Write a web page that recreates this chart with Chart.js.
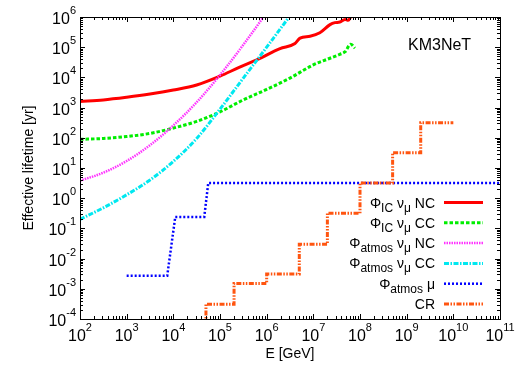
<!DOCTYPE html>
<html><head><meta charset="utf-8">
<script src="https://cdn.jsdelivr.net/npm/chart.js@4.4.1/dist/chart.umd.min.js"></script>
<style>html,body{margin:0;padding:0;background:#fff;}canvas{display:block;}</style>
</head><body>
<canvas id="c" width="523" height="366"></canvas>
<script>
// ---- data ----
const icNcE = [1e2, 3.16e2, 1e3, 3.16e3, 1e4, 3.16e4, 1e5, 2.5e5, 6.6e5, 1.93e6, 4.05e6, 5.2e6, 8.5e6, 1.38e7, 2.28e7, 2.9e7, 3.7e7, 4.8e7, 5.6e7, 6.3e7, 7.5e7];
const icNcY = [1.6e3, 1.8e3, 2.2e3, 2.8e3, 3.8e3, 5.6e3, 1.1e4, 2.1e4, 4.0e4, 8.9e4, 1.32e5, 2.0e5, 2.3e5, 3.0e5, 5.6e5, 6.5e5, 6.8e5, 8.3e5, 7.8e5, 1.0e6, 1.3e6];
const icCcE = [1e2, 3.16e2, 1e3, 3.16e3, 1e4, 3.16e4, 1e5, 3.16e5, 1e6, 3.16e6, 1e7, 2e7, 3.7e7, 4.8e7, 6.3e7, 7.8e7];
const icCcY = [89, 95, 110, 140, 210, 350, 720, 1.8e3, 4.0e3, 9.5e3, 2.6e4, 4.0e4, 5.8e4, 7.1e4, 1.26e5, 9.3e4];
const atmNcE = [1e2, 3.16e2, 1e3, 3.16e3, 1e4, 3.16e4, 1e5, 3.16e5, 1e6];
const atmNcY = [3.8, 7, 17, 57, 257, 1.5e3, 1.2e4, 1.2e5, 1.4e6];
const atmCcE = [1e2, 3.16e2, 1e3, 3.16e3, 1e4, 3.16e4, 1e5, 3.16e5, 1e6, 3.16e6];
const atmCcY = [0.2, 0.48, 1.3, 4, 16.5, 95, 890, 9.5e3, 1e5, 1.1e6];
const atmMuE = [1e3, 7.4e3, 1.1e4, 4.6e4, 5.6e4, 1e11];
const atmMuY = [2.7e-3, 2.7e-3, 0.24, 0.24, 3.2, 3.2];
const crE = [5e4, 5e4, 2e5, 2e5, 1e6, 1e6, 5e6, 5e6, 2e7, 2e7, 1e8, 1e8, 5e8, 5e8, 2e9, 2e9, 1e10];
const crY = [5e-5, 3.1e-4, 3.1e-4, 1.5e-3, 1.5e-3, 3.1e-3, 3.1e-3, 3e-2, 3e-2, 0.32, 0.32, 3.2, 3.2, 32, 32, 316, 316];

const xTickExps = [2, 3, 4, 5, 6, 7, 8, 9, 10, 11];
const yTickExps = [-4, -3, -2, -1, 0, 1, 2, 3, 4, 5, 6];
const titleText = 'KM3NeT';
const xAxisTitle = 'E [GeV]';
const yAxisTitle = 'Effective lifetime [yr]';
// legend labels as [text, 'n' normal | 's' subscript] segments
const legendLabels = [
  [['\u03A6','n'],['IC','s'],[' \u03BD','n'],['\u03BC','s'],[' NC','n']],
  [['\u03A6','n'],['IC','s'],[' \u03BD','n'],['\u03BC','s'],[' CC','n']],
  [['\u03A6','n'],['atmos','s'],[' \u03BD','n'],['\u03BC','s'],[' NC','n']],
  [['\u03A6','n'],['atmos','s'],[' \u03BD','n'],['\u03BC','s'],[' CC','n']],
  [['\u03A6','n'],['atmos','s'],[' \u03BC','n']],
  [['CR','n']]
];

const FONT = '"Liberation Sans", Arial, Helvetica, sans-serif';
const pts = (E, Y) => E.map((e, i) => ({x: e, y: Y[i]}));

const styles = [
  {c: '#ff0000', w: 3, d: [], smooth: true},
  {c: '#00ee00', w: 3, d: [3.5, 2], smooth: true},
  {c: '#ff33ff', w: 2.5, d: [1.5, 1], smooth: true},
  {c: '#00e8f0', w: 3, d: [5, 1.5, 1.5, 1.5], smooth: true},
  {c: '#0000ff', w: 2.5, d: [2, 2], smooth: false},
  {c: '#ff5510', w: 3, d: [5, 1.5, 1.5, 1.5, 1.5, 1.5], smooth: false}
];
const series = [pts(icNcE, icNcY), pts(icCcE, icCcY), pts(atmNcE, atmNcY), pts(atmCcE, atmCcY), pts(atmMuE, atmMuY), pts(crE, crY)];

const datasets = series.map((s, i) => ({
  data: s, showLine: true, pointRadius: 0, borderColor: styles[i].c, borderWidth: styles[i].w,
  borderDash: styles[i].d, fill: false, clip: 0, order: 10 - i,
  tension: styles[i].smooth ? 0.4 : 0,
  cubicInterpolationMode: styles[i].smooth ? 'monotone' : 'default'
}));

function drawRich(ctx, segs, rightX, baseY) {
  const nf = '14px ' + FONT, sf = '12px ' + FONT;
  let total = 0;
  segs.forEach(([t, k]) => { ctx.font = k === 's' ? sf : nf; total += ctx.measureText(t).width; });
  let x = rightX - total;
  ctx.textAlign = 'left'; ctx.textBaseline = 'alphabetic';
  segs.forEach(([t, k]) => {
    ctx.font = k === 's' ? sf : nf;
    ctx.fillText(t, x, k === 's' ? baseY + 4 : baseY);
    x += ctx.measureText(t).width;
  });
}

const decor = {
  id: 'decor',
  beforeDraw(chart) {
    const ctx = chart.ctx;
    ctx.save(); ctx.fillStyle = '#fff'; ctx.fillRect(0, 0, chart.width, chart.height); ctx.restore();
  },
  afterDraw(chart) {
    const ctx = chart.ctx, a = chart.chartArea;
    const xs = chart.scales.x, ys = chart.scales.y;
    ctx.save();
    // ticks
    ctx.strokeStyle = '#000'; ctx.lineWidth = 1;
    ctx.beginPath();
    xTickExps.forEach((e, idx) => {
      for (let m = 1; m <= 9; m++) {
        if (m > 1 && idx === xTickExps.length - 1) break;
        const px = Math.round(xs.getPixelForValue(m * Math.pow(10, e))) + 0.5;
        const L = m === 1 ? 5 : 3;
        ctx.moveTo(px, a.bottom); ctx.lineTo(px, a.bottom - L);
        ctx.moveTo(px, a.top); ctx.lineTo(px, a.top + L);
      }
    });
    yTickExps.forEach((e, idx) => {
      for (let m = 1; m <= 9; m++) {
        if (m > 1 && idx === yTickExps.length - 1) break;
        const py = Math.round(ys.getPixelForValue(m * Math.pow(10, e))) + 0.5;
        const L = m === 1 ? 5 : 3;
        ctx.moveTo(a.left, py); ctx.lineTo(a.left + L, py);
        ctx.moveTo(a.right, py); ctx.lineTo(a.right - L, py);
      }
    });
    ctx.stroke();
    // frame
    ctx.strokeRect(Math.round(a.left) + 0.5, Math.round(a.top) + 0.5, Math.round(a.right - a.left), Math.round(a.bottom - a.top));
    // tick labels
    ctx.fillStyle = '#000';
    const bf = '16px ' + FONT, ef = '11px ' + FONT;
    ctx.textBaseline = 'alphabetic'; ctx.textAlign = 'left';
    xTickExps.forEach(e => {
      const px = xs.getPixelForValue(Math.pow(10, e));
      ctx.font = bf; const w1 = ctx.measureText('10').width;
      ctx.font = ef; const w2 = ctx.measureText(String(e)).width;
      const x0 = px - (w1 + w2) / 2;
      ctx.font = bf; ctx.fillText('10', x0, a.bottom + 22);
      ctx.font = ef; ctx.fillText(String(e), x0 + w1, a.bottom + 12);
    });
    yTickExps.forEach(e => {
      const py = ys.getPixelForValue(Math.pow(10, e));
      ctx.font = ef; const w2 = ctx.measureText(String(e)).width;
      ctx.font = bf; const w1 = ctx.measureText('10').width;
      const xr = a.left - 4;
      ctx.font = bf; ctx.fillText('10', xr - w2 - w1, py + 7);
      ctx.font = ef; ctx.fillText(String(e), xr - w2, py - 3);
    });
    // axis titles
    ctx.font = '14px ' + FONT; ctx.textAlign = 'center';
    ctx.fillText(xAxisTitle, (a.left + a.right) / 2, 358);
    ctx.save(); ctx.translate(33, (a.top + a.bottom) / 2); ctx.rotate(-Math.PI / 2);
    ctx.fillText(yAxisTitle, 0, 0); ctx.restore();
    // title
    ctx.font = '16px ' + FONT; ctx.textAlign = 'left';
    ctx.fillText(titleText, 408, 50);
    // legend
    const y0 = 202.5, step = 20.3;
    legendLabels.forEach((segs, i) => {
      const y = y0 + i * step;
      drawRich(ctx, segs, 435, y + 5);
      const st = styles[i];
      ctx.save();
      ctx.strokeStyle = st.c; ctx.lineWidth = st.w; ctx.setLineDash(st.d);
      ctx.beginPath(); ctx.moveTo(444, y); ctx.lineTo(483, y); ctx.stroke();
      ctx.restore();
    });
    ctx.restore();
  }
};

new Chart(document.getElementById('c'), {
  type: 'scatter',
  data: {datasets},
  options: {
    responsive: false, animation: false, devicePixelRatio: 1,
    layout: {padding: {left: 80, top: 17, right: 23, bottom: 47}},
    plugins: {legend: {display: false}, tooltip: {enabled: false}},
    scales: {
      x: {type: 'logarithmic', min: 1e2, max: 1e11, display: false},
      y: {type: 'logarithmic', min: 1e-4, max: 1e6, display: false}
    }
  },
  plugins: [decor]
});
</script>
</body></html>
